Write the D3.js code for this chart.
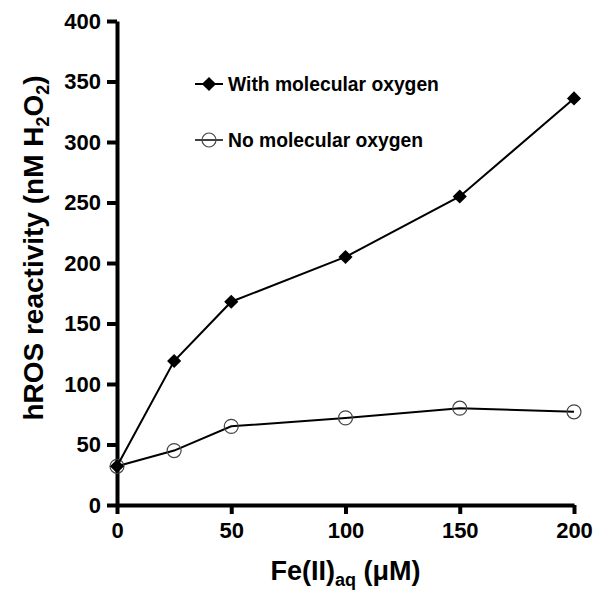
<!DOCTYPE html>
<html lang="en">
<head>
<meta charset="utf-8">
<title>hROS reactivity</title>
<style>
    body { margin: 0; background: #fff; }
    text { font-family: Arial, "Liberation Sans", sans-serif; font-weight: bold; }
    .axis path, .axis line { stroke: #000; stroke-width: 4px; }
</style>
<script src="https://d3js.org/d3.v7.min.js"></script>
</head>
<body>
<div id="chart"></div>
<script>
    // data
    var feConc = [0, 25, 50, 100, 150, 200]
    var withO2 = [32, 119, 168, 205, 255, 336]
    var noO2 = [32, 45, 65, 72, 80, 77]
    var xTicks = [0, 50, 100, 150, 200]
    var yTicks = [0, 50, 100, 150, 200, 250, 300, 350, 400]

    var width = 600
    var height = 600
    var margin = {top: 21, right: 26, bottom: 95, left: 117}

    var svg = d3.select("#chart")
        .append("svg")
        .attr("width", width)
        .attr("height", height)

    var x = d3.scaleLinear().domain([0, 200]).range([margin.left, width - margin.right])
    var y = d3.scaleLinear().domain([0, 400]).range([height - margin.bottom, margin.top])

    // axes
    var xAxis = svg.append("g")
        .attr("class", "axis")
        .attr("transform", "translate(0," + y(0) + ")")
        .call(d3.axisBottom(x).tickValues(xTicks).tickSize(9).tickSizeOuter(0).tickPadding(8))
    var yAxis = svg.append("g")
        .attr("class", "axis")
        .attr("transform", "translate(" + x(0) + ",0)")
        .call(d3.axisLeft(y).tickValues(yTicks).tickSize(10).tickSizeOuter(0).tickPadding(6))

    ;[xAxis, yAxis].forEach(function(a) {
        a.selectAll("text").attr("fill", "#000").style("font-size", "22px")
    })

    // axis titles
    var xt = svg.append("text")
        .attr("x", (x(0) + x(200)) / 2)
        .attr("y", 580)
        .attr("text-anchor", "middle")
        .style("font-size", "27px")
    xt.append("tspan").text("Fe(II)")
    xt.append("tspan").attr("dy", 6).style("font-size", "18px").text("aq")
    xt.append("tspan").attr("dy", -6).text(" (\u03bcM)")

    var yt = svg.append("text")
        .attr("transform", "translate(43," + 248 + ") rotate(-90)")
        .attr("text-anchor", "middle")
        .style("font-size", "28px")
    yt.append("tspan").text("hROS reactivity (nM H")
    yt.append("tspan").attr("dy", 6).style("font-size", "18px").text("2")
    yt.append("tspan").attr("dy", -6).text("O")
    yt.append("tspan").attr("dy", 6).style("font-size", "18px").text("2")
    yt.append("tspan").attr("dy", -6).text(")")

    var line = d3.line()
        .x(function(d) { return x(d[0]) })
        .y(function(d) { return y(d[1]) })

    var seriesNo = feConc.map(function(c, i) { return [c, noO2[i]] })
    var seriesWith = feConc.map(function(c, i) { return [c, withO2[i]] })

    var diamond = d3.symbol().type(d3.symbolSquare).size(100)

    // no oxygen (drawn first, diamonds sit on top)
    svg.append("path")
        .datum(seriesNo)
        .attr("d", line)
        .attr("fill", "none")
        .attr("stroke", "#000")
        .attr("stroke-width", 2)
    svg.selectAll(".circ")
        .data(seriesNo)
        .enter()
        .append("circle")
        .attr("class", "circ")
        .attr("cx", function(d) { return x(d[0]) })
        .attr("cy", function(d) { return y(d[1]) })
        .attr("r", 7)
        .attr("fill", "none")
        .attr("stroke", "#444")
        .attr("stroke-width", 1.2)

    // with oxygen
    svg.append("path")
        .datum(seriesWith)
        .attr("d", line)
        .attr("fill", "none")
        .attr("stroke", "#000")
        .attr("stroke-width", 2)
    svg.selectAll(".dia")
        .data(seriesWith)
        .enter()
        .append("path")
        .attr("class", "dia")
        .attr("d", diamond)
        .attr("transform", function(d) { return "translate(" + x(d[0]) + "," + y(d[1]) + ") rotate(45)" })
        .attr("fill", "#000")

    // legend
    var legend = svg.append("g")
    var leg1 = legend.append("g").attr("transform", "translate(195,84)")
    leg1.append("line").attr("x1", 0).attr("x2", 28).attr("stroke", "#000").attr("stroke-width", 2)
    leg1.append("path").attr("d", diamond).attr("transform", "translate(14,0) rotate(45)").attr("fill", "#000")
    leg1.append("text").attr("x", 33).attr("y", 7).style("font-size", "19.3px").text("With molecular oxygen")

    var leg2 = legend.append("g").attr("transform", "translate(195,140)")
    leg2.append("line").attr("x1", 0).attr("x2", 28).attr("stroke", "#000").attr("stroke-width", 1.5)
    leg2.append("circle").attr("cx", 14).attr("r", 7).attr("fill", "none").attr("stroke", "#444").attr("stroke-width", 1.2)
    leg2.append("text").attr("x", 33).attr("y", 7).style("font-size", "19.3px").text("No molecular oxygen")
</script>
</body>
</html>
